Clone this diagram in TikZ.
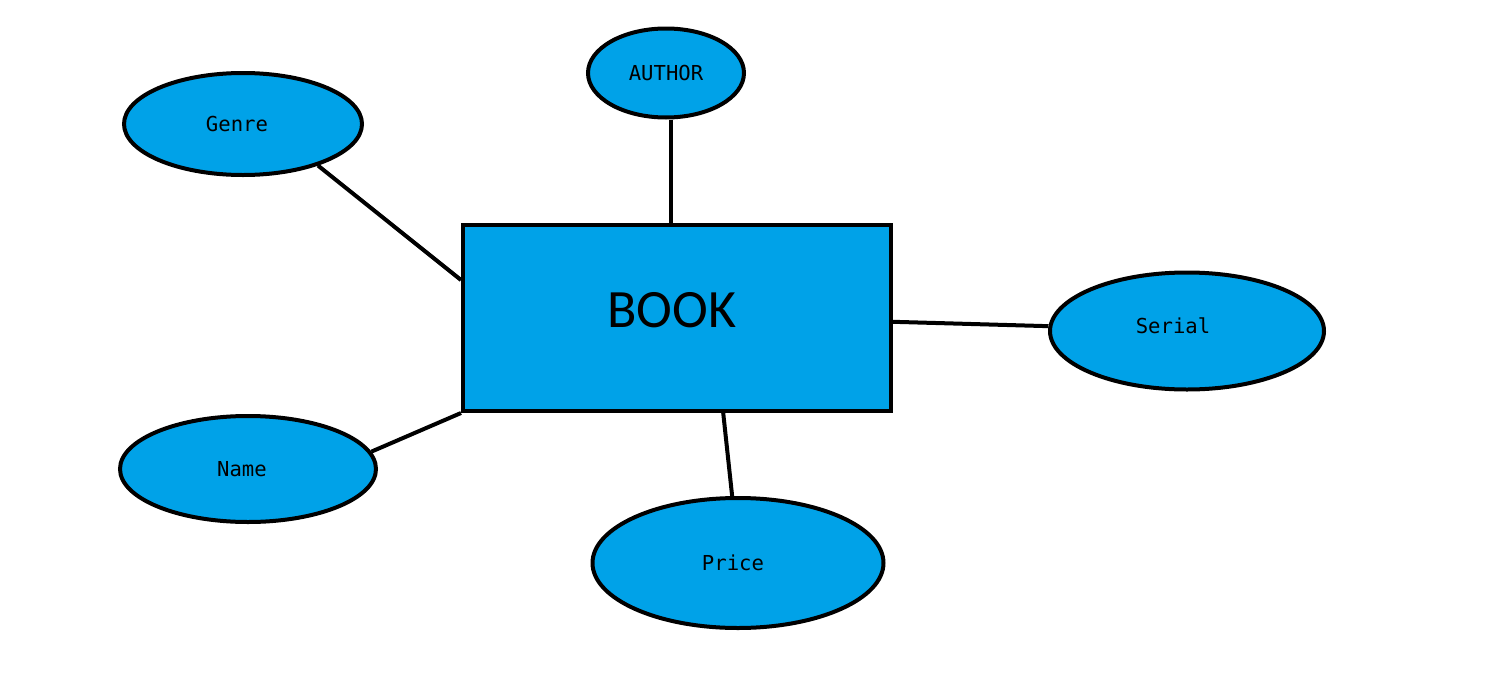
\documentclass[tikz,border=0pt]{standalone}
\usepackage{fontspec}
\setmonofont{DejaVu Sans Mono}
\newfontfamily\bookfont{Carlito}
\usetikzlibrary{shapes.geometric,calc}
\definecolor{paintblue}{HTML}{00A2E8}

\begin{document}
\begin{tikzpicture}[x=0.5pt,y=-0.5pt,
    attr/.style={ellipse, draw, line width=2pt, fill=paintblue, inner sep=0pt,
                 font=\ttfamily\fontsize{10.3}{12}\selectfont},
    entity/.style={rectangle, draw, line width=2pt, fill=paintblue, inner sep=0pt,
                   minimum width=214pt, minimum height=93pt,
                   font=\bookfont\fontsize{27}{32}\selectfont},
    link/.style={line width=2pt}]
  \useasboundingbox[fill=white] (0,0) rectangle (1490,686);

  \node [entity] (book) at (677,318) {\raisebox{8pt}{BOOK}\kern5pt};

  \node [attr, minimum width=119pt,   minimum height=51pt]   (genre)  at ( 243,124) {Genre\kern6pt};
  \node [attr, minimum width=78pt,    minimum height=44.5pt] (author) at ( 666, 73) {AUTHOR};
  \node [attr, minimum width=137pt,   minimum height=58.5pt] (serial) at (1187,331) {\raisebox{5pt}{Serial}\kern14pt};
  \node [attr, minimum width=128pt,   minimum height=53pt]   (name)   at ( 248,469) {Name\kern6pt};
  \node [attr, minimum width=145.5pt, minimum height=65pt]   (price)  at ( 738,563) {Price\kern5pt};

  \draw [link] (genre.-29) -- ($(book.north west)!0.3!(book.south west)$);
  \draw [link] ([xshift=2.5pt]author.south) -- ([xshift=2.5pt]author.south |- book.north);
  \draw [link] ($(book.north east)!0.52!(book.south east)$) -- (serial.178);
  \draw [link] (name.8) -- (book.south west);
  \draw [link] ($(book.south west)!0.607!(book.south east)$) -- (price.95);
\end{tikzpicture}
\end{document}
